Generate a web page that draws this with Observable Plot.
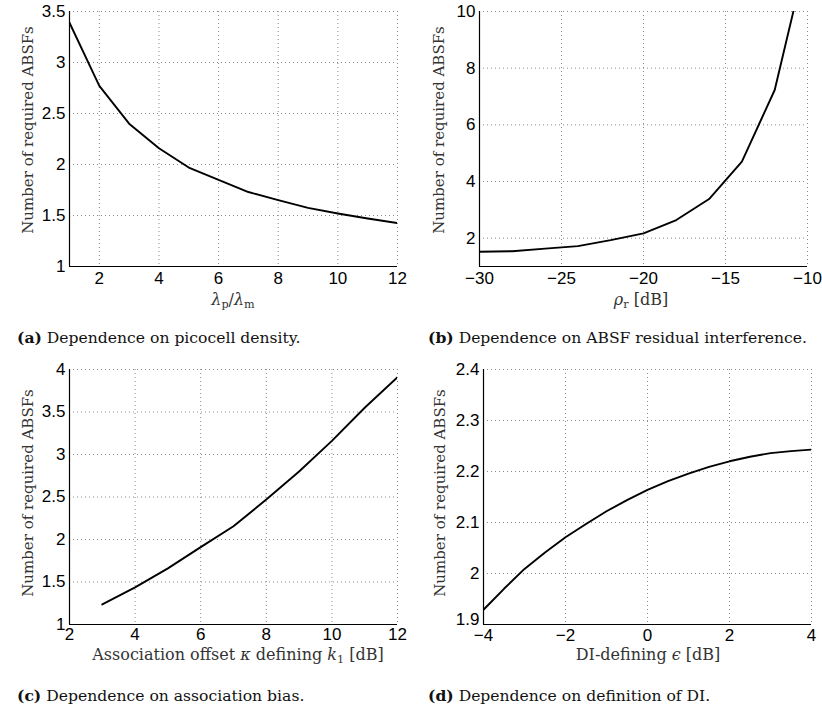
<!DOCTYPE html>
<html>
<head>
<meta charset="utf-8">
<script src="https://cdn.jsdelivr.net/npm/d3@7"></script>
<script src="https://cdn.jsdelivr.net/npm/@observablehq/plot@0.6"></script>
<style>
  html, body { margin: 0; padding: 0; background: white; }
  #root { position: relative; width: 822px; height: 709px; overflow: hidden; }
  .panel { position: absolute; }
  .lbl { position: absolute; font-family: "DejaVu Serif", "Liberation Serif", serif; font-size: 16px; color: #333; white-space: nowrap; line-height: 1; }
  .ylbl { transform: translate(-50%, -50%) rotate(-90deg); font-size: 15px; }
  .xlbl { transform: translate(-50%, -50%); }
  .cap { position: absolute; font-family: "DejaVu Serif", "Liberation Serif", serif; font-size: 15.6px; color: #111; white-space: nowrap; line-height: 1.2; }
  .cap b { font-weight: bold; }
  sub { font-size: 70%; vertical-align: -0.25em; line-height: 0; font-style: normal; }
</style>
</head>
<body>
<div id="root"></div>
<script>
// ---- Panel (a): dependence on picocell density ----
const aX = [1, 2, 3, 4, 5, 6, 7, 8, 9, 10, 11, 12];
const aY = [3.39, 2.77, 2.40, 2.16, 1.97, 1.85, 1.73, 1.65, 1.575, 1.52, 1.47, 1.425];
const aXTicks = [2, 4, 6, 8, 10, 12];
const aYTicks = [1, 1.5, 2, 2.5, 3, 3.5];

// ---- Panel (b): dependence on ABSF residual interference ----
const bX = [-30, -28, -26, -24, -22, -20, -18, -16, -14, -12, -10];
const bY = [1.52, 1.54, 1.63, 1.72, 1.93, 2.17, 2.64, 3.38, 4.70, 7.23, 12.1];
const bXTicks = [-30, -25, -20, -15, -10];
const bYTicks = [2, 4, 6, 8, 10];

// ---- Panel (c): dependence on association bias ----
const cX = [3, 4, 5, 6, 7, 8, 9, 10, 11, 12];
const cY = [1.236, 1.436, 1.66, 1.91, 2.156, 2.47, 2.80, 3.16, 3.55, 3.91];
const cXTicks = [2, 4, 6, 8, 10, 12];
const cYTicks = [1, 1.5, 2, 2.5, 3, 3.5, 4];

// ---- Panel (d): dependence on definition of DI ----
const dX = [-4, -3.5, -3, -2.5, -2, -1.5, -1, -0.5, 0, 0.5, 1, 1.5, 2, 2.5, 3, 3.5, 4];
const dY = [1.929, 1.970, 2.009, 2.041, 2.071, 2.097, 2.122, 2.144, 2.164, 2.181, 2.196, 2.209, 2.220, 2.229, 2.236, 2.240, 2.243];
const dXTicks = [-4, -2, 0, 2, 4];
const dYTicks = [1.9, 2, 2.1, 2.2, 2.3, 2.4];

const fmt = d => (d < 0 ? "\u2212" + String(-d) : String(d));

function panel({xs, ys, xDomain, yDomain, xTicks, yTicks, ml, mr, xPad, lowShift = 0}) {
  const data = xs.map((x, i) => ({x, y: ys[i]}));
  const grid = {stroke: "#8a8a8a", strokeOpacity: 1, strokeWidth: 1, strokeDasharray: "1,3"};
  const yMain = lowShift ? yTicks.slice(1) : yTicks;
  const marks = [
    Plot.gridX(xTicks, grid),
    Plot.gridY(yTicks, grid),
    Plot.ruleX([xDomain[0]], {stroke: "black", strokeWidth: 1.2}),
    Plot.ruleY([yDomain[0]], {stroke: "black", strokeWidth: 1.2}),
    Plot.axisX(xTicks, {tickSize: 0, tickPadding: xPad, tickFormat: fmt, label: null, fill: "black", fontSize: 17}),
    Plot.axisY(yMain, {tickSize: 0, tickPadding: 4, tickFormat: fmt, label: null, fill: "black", fontSize: 17})
  ];
  if (lowShift) {
    marks.push(Plot.axisY([yTicks[0]], {tickSize: 0, tickPadding: 4, tickFormat: fmt, label: null, fill: "black", fontSize: 17, dy: -lowShift}));
  }
  marks.push(Plot.line(data, {x: "x", y: "y", stroke: "black", strokeWidth: 1.9, clip: true}));
  return Plot.plot({
    width: 411, height: 320,
    marginLeft: ml, marginRight: mr, marginTop: 11, marginBottom: 54,
    x: {domain: xDomain, label: null},
    y: {domain: yDomain, label: null},
    style: {fontFamily: "'Liberation Sans', Arial, sans-serif", fontSize: "17px", color: "black", background: "transparent", overflow: "visible"},
    marks
  });
}

const root = document.getElementById("root");
function place(el, left, top) {
  el.classList.add("panel");
  el.style.left = left + "px";
  el.style.top = top + "px";
  root.appendChild(el);
}
function html(cls, content, left, top) {
  const d = document.createElement("div");
  d.className = cls;
  d.innerHTML = content;
  d.style.left = left + "px";
  d.style.top = top + "px";
  root.appendChild(d);
}

place(panel({xs: aX, ys: aY, xDomain: [1, 12], yDomain: [1, 3.5], xTicks: aXTicks, yTicks: aYTicks, ml: 69, mr: 14, xPad: 5}), 0, 0);
place(panel({xs: bX, ys: bY, xDomain: [-30, -10], yDomain: [1, 10], xTicks: bXTicks, yTicks: bYTicks, ml: 68, mr: 15, xPad: 5}), 411, 0);
place(panel({xs: cX, ys: cY, xDomain: [2, 12], yDomain: [1, 4], xTicks: cXTicks, yTicks: cYTicks, ml: 69, mr: 14, xPad: 3}), 0, 358);
place(panel({xs: dX, ys: dY, xDomain: [-4, 4], yDomain: [1.9, 2.4], xTicks: dXTicks, yTicks: dYTicks, ml: 72, mr: 11, xPad: 4, lowShift: 5}), 411, 358);

// axis labels
html("lbl ylbl", "Number of required ABSFs", 28, 130);
html("lbl ylbl", "Number of required ABSFs", 411 + 28, 130);
html("lbl ylbl", "Number of required ABSFs", 28, 493);
html("lbl ylbl", "Number of required ABSFs", 411 + 29, 493);
html("lbl xlbl", "<i>λ</i><sub>p</sub>/<i>λ</i><sub>m</sub>", 233, 300);
html("lbl xlbl", "<i>ρ</i><sub>r</sub> [dB]", 641, 300);
html("lbl xlbl", "Association offset <i>κ</i> defining <i>k</i><sub>1</sub> [dB]", 238, 655);
html("lbl xlbl", "DI-defining <i>ϵ</i> [dB]", 648, 655);

// captions
html("cap", "<b>(a)</b> Dependence on picocell density.", 17, 329);
html("cap", "<b>(b)</b> Dependence on ABSF residual interference.", 428, 329);
html("cap", "<b>(c)</b> Dependence on association bias.", 17, 687);
html("cap", "<b>(d)</b> Dependence on definition of DI.", 428, 687);
</script>
</body>
</html>
